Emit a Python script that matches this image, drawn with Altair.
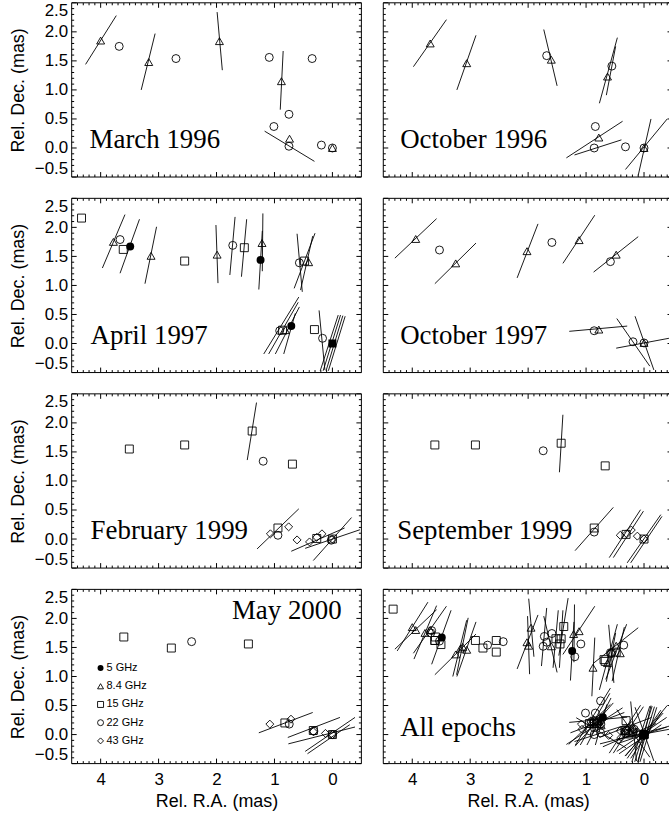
import altair as alt
import pandas as pd

# ---------------------------------------------------------------------------
# Component positions per epoch: (band GHz, RA offset mas, Dec offset mas, filled)
# Position-angle segments per epoch: (RA1, Dec1, RA2, Dec2) in mas
# ---------------------------------------------------------------------------
MAR96_POINTS = [
    ("8.4", 4.00, 1.85, 0), ("22", 3.68, 1.75, 0), ("8.4", 3.17, 1.48, 0),
    ("22", 2.70, 1.54, 0), ("8.4", 1.95, 1.84, 0), ("22", 1.09, 1.56, 0),
    ("8.4", 0.88, 1.15, 0), ("22", 0.35, 1.54, 0), ("22", 0.75, 0.58, 0),
    ("22", 1.01, 0.37, 0), ("8.4", 0.74, 0.16, 0), ("22", 0.75, 0.03, 0),
    ("22", 0.19, 0.05, 0), ("8.4", 0.00, 0.00, 0), ("22", 0.00, 0.00, 0),
]
MAR96_SEGS = [
    (4.26, 1.44, 3.73, 2.28), (3.30, 1.00, 3.06, 1.97), (1.99, 2.34, 1.90, 1.34),
    (0.85, 1.67, 0.90, 0.66), (1.17, 0.29, 0.31, -0.23),
]

OCT96_POINTS = [
    ("8.4", 3.69, 1.80, 0), ("8.4", 3.06, 1.46, 0), ("22", 1.68, 1.59, 0),
    ("8.4", 1.60, 1.52, 0), ("22", 0.555, 1.41, 0), ("8.4", 0.63, 1.23, 0),
    ("22", 0.84, 0.37, 0), ("8.4", 0.78, 0.18, 0), ("22", 0.86, 0.00, 0),
    ("22", 0.32, 0.02, 0), ("8.4", 0.00, 0.00, 0), ("22", 0.00, 0.00, 0),
]
OCT96_SEGS = [
    (3.98, 1.40, 3.41, 2.21), (3.23, 1.00, 2.90, 1.94), (1.73, 2.04, 1.50, 1.07),
    (0.77, 0.77, 0.46, 1.90), (0.65, 0.91, 0.49, 1.75), (1.34, -0.17, 0.37, 0.46),
    (1.20, -0.12, 0.39, 0.14), (0.32, -0.37, -0.40, 0.50), (0.10, -0.47, -0.12, 0.50),
]

APR97_POINTS = [
    ("15", 4.33, 2.16, 0), ("8.4", 3.78, 1.75, 0), ("22", 3.665, 1.79, 0),
    ("15", 3.61, 1.62, 0), ("5", 3.49, 1.67, 1), ("8.4", 3.13, 1.51, 0),
    ("15", 2.55, 1.42, 0), ("8.4", 1.99, 1.53, 0), ("22", 1.72, 1.69, 0),
    ("15", 1.52, 1.65, 0), ("8.4", 1.215, 1.73, 0), ("5", 1.24, 1.44, 1),
    ("22", 0.57, 1.39, 0), ("15", 0.48, 1.42, 0), ("8.4", 0.41, 1.40, 0),
    ("22", 0.91, 0.22, 0), ("15", 0.86, 0.23, 0), ("8.4", 0.81, 0.23, 0),
    ("5", 0.71, 0.30, 1), ("15", 0.31, 0.24, 0), ("22", 0.17, 0.09, 0),
    ("15", 0.00, 0.00, 1),
]
APR97_SEGS = [
    (3.97, 1.30, 3.58, 2.22), (3.665, 1.21, 3.33, 2.14), (3.235, 1.03, 3.035, 2.01),
    (2.01, 2.04, 1.975, 1.04), (1.77, 1.18, 1.68, 2.18), (1.57, 1.15, 1.48, 2.14),
    (1.20, 2.24, 1.21, 1.245), (1.27, 0.93, 1.21, 1.94), (0.66, 0.95, 0.30, 1.90),
    (0.61, 1.89, 0.52, 0.89), (0.55, 0.92, 0.34, 1.85),
    (1.185, -0.18, 0.58, 0.80), (1.10, -0.18, 0.59, 0.71), (0.985, -0.18, 0.57, 0.63),
    (0.84, -0.18, 0.64, 0.52),
    (0.23, 0.57, 0.13, -0.455),
    (0.21, -0.47, -0.10, 0.49), (0.16, -0.47, -0.14, 0.49), (0.11, -0.47, -0.18, 0.48),
    (0.07, -0.47, -0.22, 0.47),
]

OCT97_POINTS = [
    ("8.4", 3.94, 1.80, 0), ("22", 3.53, 1.61, 0), ("8.4", 3.25, 1.38, 0),
    ("8.4", 2.02, 1.59, 0), ("22", 1.59, 1.74, 0), ("8.4", 1.12, 1.78, 0),
    ("22", 0.58, 1.41, 0), ("8.4", 0.48, 1.53, 0), ("22", 0.86, 0.22, 0),
    ("8.4", 0.78, 0.24, 0), ("22", 0.19, 0.03, 0), ("8.4", 0.00, 0.01, 0),
    ("22", 0.00, 0.01, 0),
]
OCT97_SEGS = [
    (4.30, 1.47, 3.58, 2.15), (3.61, 1.03, 2.90, 1.73), (2.19, 1.13, 1.83, 2.06),
    (1.40, 1.38, 0.85, 2.21), (0.87, 1.23, 0.10, 1.84), (1.29, 0.21, 0.29, 0.30),
    (0.47, 0.43, -0.10, -0.39), (0.155, 0.47, -0.17, -0.455), (0.48, -0.08, -0.43, 0.09),
]

FEB99_POINTS = [
    ("15", 3.505, 1.55, 0), ("15", 2.55, 1.62, 0), ("15", 1.385, 1.86, 0),
    ("22", 1.195, 1.34, 0), ("15", 0.69, 1.29, 0), ("43", 1.07, 0.09, 0),
    ("15", 0.94, 0.19, 0), ("22", 0.94, 0.065, 0), ("43", 0.755, 0.21, 0),
    ("43", 0.61, -0.015, 0), ("43", 0.395, -0.05, 0), ("15", 0.27, 0.01, 0),
    ("43", 0.18, 0.09, 0), ("43", 0.27, 0.03, 0), ("15", 0.00, 0.00, 0),
    ("43", 0.00, 0.00, 0), ("22", 0.02, -0.02, 0),
]
FEB99_SEGS = [
    (1.47, 1.36, 1.31, 2.35), (1.30, -0.17, 0.58, 0.52), (0.71, -0.21, -0.21, 0.19),
    (0.47, -0.16, -0.475, 0.16), (0.33, -0.37, -0.33, 0.37),
]

SEP99_POINTS = [
    ("15", 3.61, 1.62, 0), ("15", 2.91, 1.62, 0), ("22", 1.74, 1.52, 0),
    ("15", 1.43, 1.65, 0), ("15", 0.67, 1.26, 0), ("15", 0.86, 0.19, 0),
    ("22", 0.86, 0.12, 0), ("43", 0.41, 0.065, 0), ("15", 0.31, 0.08, 0),
    ("43", 0.30, 0.09, 0), ("43", 0.22, 0.155, 0), ("43", 0.115, 0.05, 0),
    ("15", 0.00, 0.00, 0), ("43", 0.00, 0.00, 0),
]
SEP99_SEGS = [
    (1.46, 1.15, 1.40, 2.14), (1.19, -0.20, 0.53, 0.545), (0.60, -0.32, 0.06, 0.505),
    (0.53, -0.32, 0.01, 0.48), (0.29, -0.41, -0.29, 0.42), (0.23, -0.41, -0.31, 0.39),
]

MAY00_POINTS = [
    ("15", 3.60, 1.68, 0), ("15", 2.78, 1.49, 0), ("22", 2.43, 1.60, 0),
    ("15", 1.45, 1.56, 0), ("43", 1.08, 0.18, 0), ("15", 0.82, 0.20, 0),
    ("22", 0.745, 0.18, 0), ("43", 0.715, 0.265, 0), ("15", 0.33, 0.07, 0),
    ("22", 0.32, 0.06, 0), ("43", 0.33, 0.05, 0), ("43", 0.12, 0.02, 0),
    ("15", 0.00, 0.00, 0), ("22", 0.00, 0.00, 0), ("43", 0.00, 0.00, 0),
]
MAY00_SEGS = [
    (1.27, 0.03, 0.34, 0.38), (0.77, -0.05, -0.13, 0.295), (0.76, -0.16, -0.39, 0.13),
    (0.47, -0.29, -0.39, 0.295), (0.43, -0.33, -0.30, 0.17),
]

EPOCHS = [
    ("March 1996", MAR96_POINTS, MAR96_SEGS),
    ("October 1996", OCT96_POINTS, OCT96_SEGS),
    ("April 1997", APR97_POINTS, APR97_SEGS),
    ("October 1997", OCT97_POINTS, OCT97_SEGS),
    ("February 1999", FEB99_POINTS, FEB99_SEGS),
    ("September 1999", SEP99_POINTS, SEP99_SEGS),
    ("May 2000", MAY00_POINTS, MAY00_SEGS),
]

BANDS = ["5", "8.4", "15", "22", "43"]
BAND_LABELS = ["5 GHz", "8.4 GHz", "15 GHz", "22 GHz", "43 GHz"]
BAND_SHAPES = ["circle", "triangle-up", "square", "circle", "diamond"]

X_MAJOR = [0, 1, 2, 3, 4]
Y_MAJOR = [-0.5, 0.0, 0.5, 1.0, 1.5, 2.0, 2.5]

# ---------------------------------------------------------------------------
# Layout / styling
# ---------------------------------------------------------------------------
SANS = "Liberation Sans"
SERIF = "Liberation Serif"
PX_PER_MAS = 58.2
FULL_W = 291
RIGHT_W = 287
H = 175
MAJ_LEN = 5
MIN_LEN = 2.5
SYM_SIZE = 64

X_MINOR = [i / 10 for i in range(-4, 45) if i % 10 != 0]
Y_MINOR = [i / 10 for i in range(-4, 25) if i % 5 != 0]

SHAPE_SCALE = alt.Scale(domain=BANDS, range=BAND_SHAPES)


def one_row(**kw):
    return pd.DataFrame({k: [v] for k, v in kw.items()} or {"k": [0]})


def panel(label, points, segs, col, row, label_x, label_y=146, label_align="left", legend=False):
    w = FULL_W if col == 0 else RIGHT_W
    x_lo = -0.5 if col == 0 else 4.5 - RIGHT_W / PX_PER_MAS
    xs = alt.Scale(domain=[x_lo, 4.5], reverse=True, nice=False, zero=False)
    ys = alt.Scale(domain=[-0.5, 2.5], nice=False, zero=False)

    if row == 3:
        x_axis = alt.Axis(
            values=X_MAJOR, format="d", title="Rel. R.A. (mas)", ticks=False,
            domain=False, grid=False, labelFont=SANS, labelFontSize=17,
            labelColor="black", labelPadding=8, labelFlush=False,
            titleFont=SANS, titleFontSize=18, titleFontWeight="normal",
            titleColor="black", titlePadding=5, titleX=FULL_W / 2,
        )
    else:
        x_axis = None
    if col == 0:
        y_axis = alt.Axis(
            values=Y_MAJOR, format=".1f", title="Rel. Dec. (mas)", ticks=False,
            domain=False, grid=False, labelFont=SANS, labelFontSize=17,
            labelColor="black", labelPadding=4, labelFlush=True,
            titleFont=SANS, titleFontSize=18, titleFontWeight="normal",
            titleColor="black", titlePadding=7,
        )
    else:
        y_axis = None

    def X(f):
        return alt.X(f, scale=xs, axis=x_axis)

    def Y(f):
        return alt.Y(f, scale=ys, axis=y_axis)

    layers = []

    # position-angle segments
    seg_df = pd.DataFrame(segs, columns=["ra1", "dec1", "ra2", "dec2"])
    layers.append(
        alt.Chart(seg_df).mark_rule(color="black", strokeWidth=0.9, clip=True).encode(
            x=X("ra1:Q"), y=Y("dec1:Q"), x2="ra2:Q", y2="dec2:Q"
        )
    )

    # components
    pt_df = pd.DataFrame(points, columns=["band", "ra", "dec", "filled"])
    open_df = pt_df[pt_df.filled == 0]
    fill_df = pt_df[pt_df.filled == 1]
    if len(open_df):
        layers.append(
            alt.Chart(open_df).mark_point(
                filled=False, color="black", strokeWidth=0.9, size=SYM_SIZE, opacity=1, clip=True
            ).encode(
                x=X("ra:Q"), y=Y("dec:Q"),
                shape=alt.Shape("band:N", scale=SHAPE_SCALE, legend=None),
            )
        )
    if len(fill_df):
        layers.append(
            alt.Chart(fill_df).mark_point(
                filled=True, color="black", size=SYM_SIZE, opacity=1, clip=True
            ).encode(
                x=X("ra:Q"), y=Y("dec:Q"),
                shape=alt.Shape("band:N", scale=SHAPE_SCALE, legend=None),
            )
        )

    # inward tick marks on all sides
    for vals, ln in ((X_MAJOR, MAJ_LEN), (X_MINOR, MIN_LEN)):
        tdf = pd.DataFrame({"v": vals})
        layers.append(
            alt.Chart(tdf).mark_rule(color="black", strokeWidth=1, clip=True).encode(
                x=X("v:Q"), y=alt.value(H), y2=alt.value(H - ln)
            )
        )
        layers.append(
            alt.Chart(tdf).mark_rule(color="black", strokeWidth=1, clip=True).encode(
                x=X("v:Q"), y=alt.value(0), y2=alt.value(ln)
            )
        )
    for vals, ln in ((Y_MAJOR, MAJ_LEN), (Y_MINOR, MIN_LEN)):
        tdf = pd.DataFrame({"v": vals})
        layers.append(
            alt.Chart(tdf).mark_rule(color="black", strokeWidth=1).encode(
                y=Y("v:Q"), x=alt.value(0), x2=alt.value(ln)
            )
        )
        if col == 0:
            layers.append(
                alt.Chart(tdf).mark_rule(color="black", strokeWidth=1).encode(
                    y=Y("v:Q"), x=alt.value(w - ln), x2=alt.value(w)
                )
            )
        elif ln == MAJ_LEN:
            layers.append(
                alt.Chart(tdf).mark_rule(color="black", strokeWidth=1).encode(
                    y=Y("v:Q"), x=alt.value(w - 1.5), x2=alt.value(w)
                )
            )

    # frame
    frame = one_row()
    layers.append(alt.Chart(frame).mark_rule(color="black", strokeWidth=1).encode(
        x=alt.value(0), x2=alt.value(w), y=alt.value(0)))
    layers.append(alt.Chart(frame).mark_rule(color="black", strokeWidth=1).encode(
        x=alt.value(0), x2=alt.value(w), y=alt.value(H)))
    layers.append(alt.Chart(frame).mark_rule(color="black", strokeWidth=1).encode(
        x=alt.value(0), y=alt.value(0), y2=alt.value(H)))
    if col == 0:
        layers.append(alt.Chart(frame).mark_rule(color="black", strokeWidth=1).encode(
            x=alt.value(w), y=alt.value(0), y2=alt.value(H)))

    # epoch label
    layers.append(
        alt.Chart(one_row(t=label)).mark_text(
            font=SERIF, fontSize=27, align=label_align, baseline="alphabetic", color="black"
        ).encode(x=alt.value(label_x), y=alt.value(label_y), text="t:N")
    )

    # band key
    if legend:
        for i, (band, lab, shp) in enumerate(zip(BANDS, BAND_LABELS, BAND_SHAPES)):
            ky = 79 + 18.3 * i
            kdf = one_row(t=lab)
            layers.append(
                alt.Chart(kdf).mark_point(
                    shape=shp, filled=(band == "5"), color="black", strokeWidth=0.9,
                    size=36, opacity=1,
                ).encode(x=alt.value(29), y=alt.value(ky))
            )
            layers.append(
                alt.Chart(kdf).mark_text(
                    font=SANS, fontSize=11, align="left", baseline="middle", color="black"
                ).encode(x=alt.value(35), y=alt.value(ky), text="t:N")
            )

    return alt.layer(*layers).properties(width=w, height=H)


all_points = [p for _, pts, _ in EPOCHS for p in pts]
all_segs = [s for _, _, sg in EPOCHS for s in sg]

label_x = {
    "March 1996": 18, "October 1996": 17, "April 1997": 19, "October 1997": 17,
    "February 1999": 19, "September 1999": 14,
}

panels = []
for idx, (name, pts, sg) in enumerate(EPOCHS):
    row, col = divmod(idx, 2)
    if name == "May 2000":
        panels.append(panel(name, pts, sg, col, row, label_x=161, label_y=30, legend=True))
    else:
        panels.append(panel(name, pts, sg, col, row, label_x=label_x[name]))
panels.append(panel("All epochs", all_points, all_segs, 1, 3, label_x=17, label_y=147))

rows = [alt.hconcat(panels[2 * r], panels[2 * r + 1], spacing=20) for r in range(4)]

chart = (
    alt.vconcat(*rows, spacing=19.4)
    .properties(padding={"left": 9, "top": 0, "right": 0, "bottom": 0}, background="white")
    .configure_view(stroke=None)
)

chart.save("out.html", embed_options={"renderer": "svg", "actions": False})
